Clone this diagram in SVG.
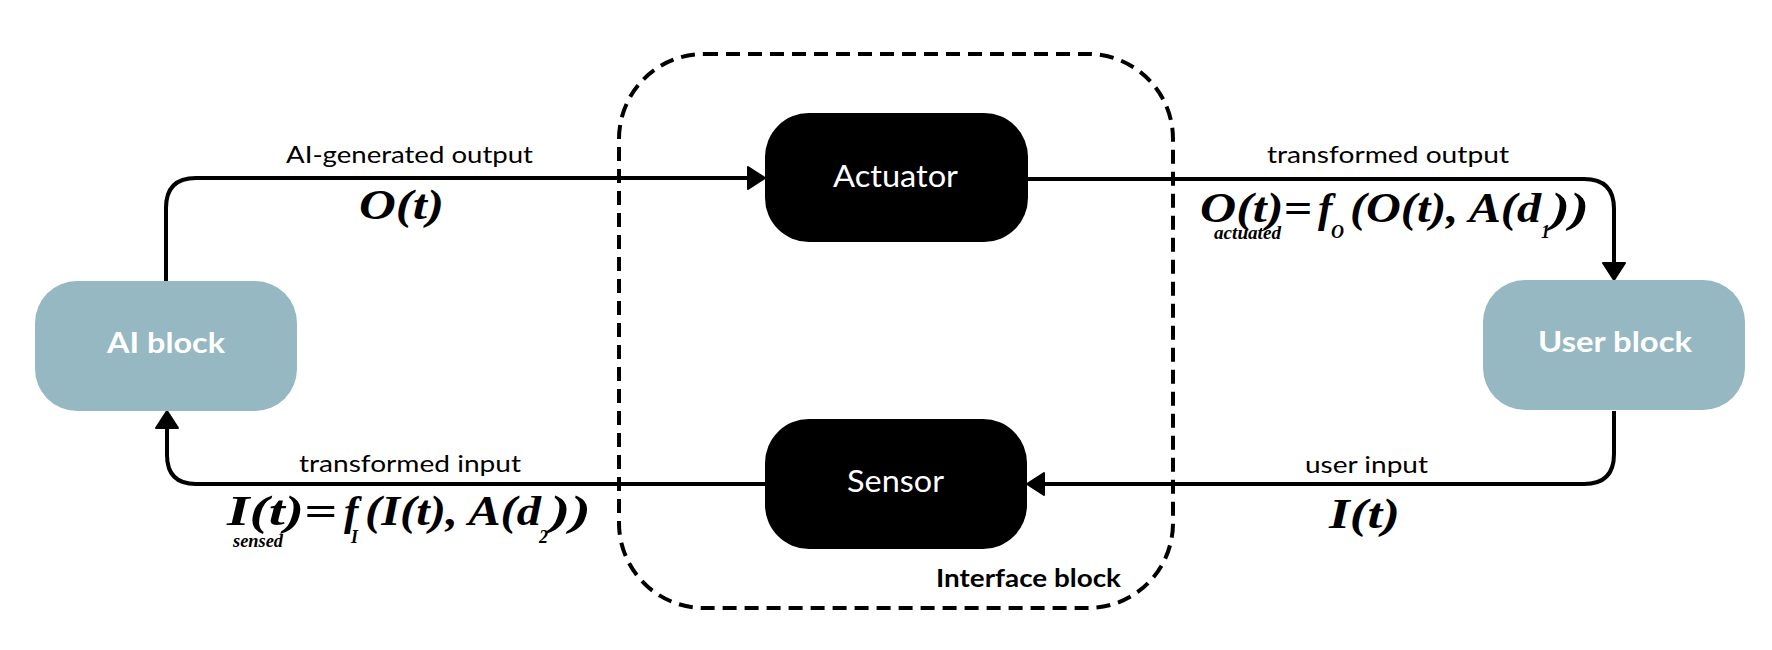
<svg xmlns="http://www.w3.org/2000/svg" width="1772" height="650" viewBox="0 0 1772 650">
<style>
.blk{fill:#95B8C3}
.dark{fill:#000}
.ntxt{font-family:Lato,"Liberation Sans",sans-serif;fill:#fff}
.bold{font-weight:bold}
.lbl{font-family:Lato,"Liberation Sans",sans-serif;font-size:24px;fill:#000}
.eq{font-family:"Liberation Serif","Times New Roman",serif;font-style:italic;font-weight:bold;font-size:43px;fill:#000}
.sub{font-family:"Liberation Serif","Times New Roman",serif;font-style:italic;font-weight:bold;font-size:18px;fill:#000}
.conn{fill:none;stroke:#000;stroke-width:4}
</style>
<defs>
<marker id="arr" markerUnits="userSpaceOnUse" markerWidth="24" markerHeight="28" refX="3" refY="12" orient="auto">
<path d="M1,1 L18,12 L1,23 Z" fill="#000" stroke="#000" stroke-width="2" stroke-linejoin="round"/>
</marker>
</defs>

<g id="interface-block">
<rect x="619" y="54" width="554" height="554" rx="85" ry="85" fill="none" stroke="#000" stroke-width="4" stroke-dasharray="14 8"/>
<text x="936" y="587" class="lbl bold" font-size="25" textLength="185" lengthAdjust="spacingAndGlyphs">Interface block</text>
</g>

<g id="connectors">
<path class="conn" d="M166,281 V208 Q166,178 196,178 H750" marker-end="url(#arr)"/>
<path class="conn" d="M1028,179 H1584 Q1614,179 1614,209 V265" marker-end="url(#arr)"/>
<path class="conn" d="M1614,411 V454 Q1614,484 1584,484 H1042" marker-end="url(#arr)"/>
<path class="conn" d="M765,484 H196 Q167,484 167,455 V426" marker-end="url(#arr)"/>
</g>

<g id="ai-block">
<rect class="blk" x="35" y="281" width="262" height="130" rx="42" ry="42"/>
<text x="107" y="353" class="ntxt bold" font-size="28" textLength="118" lengthAdjust="spacingAndGlyphs">AI block</text>
</g>

<g id="user-block">
<rect class="blk" x="1483" y="280" width="262" height="130" rx="42" ry="42"/>
<text x="1538" y="352" class="ntxt bold" font-size="28" textLength="154" lengthAdjust="spacingAndGlyphs">User block</text>
</g>

<g id="actuator">
<rect class="dark" x="765" y="113" width="263" height="129" rx="44" ry="44"/>
<text x="833" y="187" class="ntxt" font-size="30" textLength="125" lengthAdjust="spacingAndGlyphs">Actuator</text>
</g>

<g id="sensor">
<rect class="dark" x="765" y="419" width="262" height="130" rx="44" ry="44"/>
<text x="847" y="492" class="ntxt" font-size="30" textLength="97" lengthAdjust="spacingAndGlyphs">Sensor</text>
</g>

<g id="labels">
<text x="286" y="163" class="lbl" textLength="247" lengthAdjust="spacingAndGlyphs">AI-generated output</text>
<text x="359" y="219" class="eq" textLength="85" lengthAdjust="spacingAndGlyphs">O(t)</text>

<text x="1267" y="163" class="lbl" textLength="242" lengthAdjust="spacingAndGlyphs">transformed output</text>
<text x="1200" y="222" class="eq" textLength="112" lengthAdjust="spacingAndGlyphs">O(t)=</text>
<text x="1214" y="239" class="sub" textLength="67" lengthAdjust="spacingAndGlyphs">actuated</text>
<text x="1318" y="222" class="eq">f</text>
<text x="1331" y="238" class="sub">O</text>
<text x="1350" y="222" class="eq" textLength="191" lengthAdjust="spacingAndGlyphs">(O(t), A(d</text>
<text x="1541" y="238" class="sub">1</text>
<text x="1551" y="222" class="eq" textLength="38" lengthAdjust="spacingAndGlyphs">))</text>

<text x="299" y="472" class="lbl" textLength="222" lengthAdjust="spacingAndGlyphs">transformed input</text>
<text x="227" y="525" class="eq" textLength="110" lengthAdjust="spacingAndGlyphs">I(t)=</text>
<text x="233" y="547" class="sub" textLength="50" lengthAdjust="spacingAndGlyphs">sensed</text>
<text x="344" y="525" class="eq">f</text>
<text x="351" y="543" class="sub">I</text>
<text x="365" y="525" class="eq" textLength="176" lengthAdjust="spacingAndGlyphs">(I(t), A(d</text>
<text x="539" y="543" class="sub">2</text>
<text x="550" y="525" class="eq" textLength="41" lengthAdjust="spacingAndGlyphs">))</text>

<text x="1305" y="473" class="lbl" textLength="123" lengthAdjust="spacingAndGlyphs">user input</text>
<text x="1329" y="528" class="eq" textLength="71" lengthAdjust="spacingAndGlyphs">I(t)</text>
</g>
</svg>
